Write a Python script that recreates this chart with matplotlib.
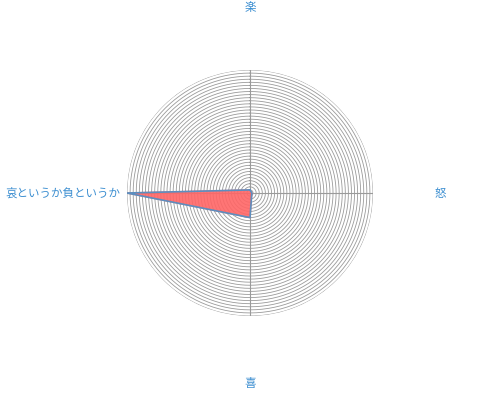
import matplotlib
matplotlib.use('Agg')
import matplotlib.pyplot as plt
import numpy as np

plt.rcParams['font.family'] = ['Noto Sans CJK JP', 'DejaVu Sans']

# radar data (counter-clockwise from top)
labels = ['楽', '哀というか負というか', '喜', '怒']
values = [1.0, 40.0, 8.0, 0.6]
max_value = 40
ring_count = 40

W, H = 499, 404
cx, cy, rad = 250, 193, 123

fig = plt.figure(figsize=(W / 100, H / 100), dpi=100)
ax = fig.add_axes([(cx - rad) / W, (H - cy - rad) / H, 2 * rad / W, 2 * rad / H],
                  projection='polar')
ax.set_theta_offset(np.pi / 2)
ax.set_ylim(0, max_value)
ax.axis('off')

# concentric rings
t = np.linspace(0, 2 * np.pi, 361)
for r in np.linspace(max_value / ring_count, max_value, ring_count):
    ax.plot(t, np.full_like(t, r), color='#9a9a9a', lw=0.6)

# spokes
angles = np.arange(len(labels)) * 2 * np.pi / len(labels)
for a in angles:
    ax.plot([a, a], [0, max_value], color='#9a9a9a', lw=0.8)

# data polygon
va = np.append(angles, angles[0])
vv = np.append(values, values[0])
ax.fill(va, vv, color='#ff6666', alpha=0.9, zorder=3)
ax.plot(va, vv, color='#5b8fc0', lw=1.2, zorder=4)

# labels
lab_color = '#3d8fd1'
fs = 8.3
fig.text(cx / W, 1 - 7 / H, labels[0], color=lab_color, fontsize=fs, ha='center', va='center')
fig.text(121 / W, 1 - cy / H, labels[1], color=lab_color, fontsize=fs, ha='right', va='center')
fig.text(cx / W, 1 - 383 / H, labels[2], color=lab_color, fontsize=fs, ha='center', va='center')
fig.text(440 / W, 1 - cy / H, labels[3], color=lab_color, fontsize=fs, ha='center', va='center')

fig.savefig('out.png', dpi=100)
